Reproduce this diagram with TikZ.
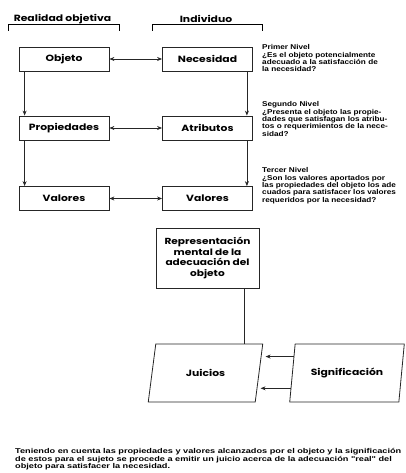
\documentclass[tikz,border=0pt]{standalone}
\usepackage{fontspec}
\setmainfont{Liberation Sans}
\newfontfamily\gothfont[FakeStretch=1.2]{Poppins}
\newfontfamily\notefont[FakeStretch=1.17]{Liberation Sans}
\newfontfamily\textofont[FakeStretch=1.31]{Liberation Sans}
\usetikzlibrary{arrows.meta,positioning,shapes.geometric,calc}

\begin{document}
\begin{tikzpicture}[
    % Environment Config
    x=1pt, y=-1pt,
    Caja/.style={% Style for the boxes
      draw=black!85,
      line width=0.8pt,
      minimum width=90pt,
      minimum height=24pt,
      inner sep=1pt,
      font=\gothfont\bfseries\fontsize{9}{10}\selectfont
    },
    Paralelo/.style={% Style for the slanted boxes
      draw=black!85,
      line width=0.8pt,
      trapezium,
      trapezium left angle=76,
      trapezium right angle=104,
      trapezium stretches=true,
      minimum width=115pt,
      minimum height=58pt,
      font=\gothfont\bfseries\fontsize{9}{10}\selectfont
    },
    Flecha/.style={% Style for the arrows
      -{Stealth[length=5pt,width=4pt]},
      line width=0.7pt,
      black!85
    },
    Doble/.style={% Style for the double arrows
      {Stealth[length=5pt,width=4pt]}-{Stealth[length=5pt,width=4pt]},
      line width=0.7pt,
      black!85
    },
    Nota/.style={% Style for the side notes
      anchor=north west,
      align=left,
      inner sep=0pt,
      font=\notefont\bfseries\fontsize{7}{7.4}\selectfont
    },
    Titulo/.style={% Style for the headers
      inner sep=0pt,
      font=\gothfont\bfseries\fontsize{9}{10}\selectfont
    }
  ]

  \useasboundingbox (0,0) rectangle (405,473);

  % Headers
  \node[Titulo] (realidad) at (62.5,19) {Realidad objetiva};
  \node[Titulo] (individuo) at (206,19) {Individuo};
  \draw[line width=0.8pt] (8,31) -- (8,24.5) -- (119,24.5) -- (119,31);
  \draw[line width=0.8pt] (152,31) -- (152,24.5) -- (262,24.5) -- (262,31);

  % Boxes
  \node[Caja] (objeto) at (64,59) {Objeto};
  \node[Caja] (necesidad) at (207.5,59) {Necesidad};
  \node[Caja] (propiedades) at (64,128) {Propiedades};
  \node[Caja] (atributos) at (207.5,128) {Atributos};
  \node[Caja] (valoresO) at (64,198.5) {Valores};
  \node[Caja] (valoresI) at (207.5,198.5) {Valores};
  \node[Caja, minimum width=103pt, minimum height=60pt, align=center,
        font=\gothfont\bfseries\fontsize{8.8}{10.6}\selectfont]
    (representacion) at (207.5,258)
    {Representación\\mental de la\\adecuación del\\objeto};
  \node[Paralelo] (juicios) at (205.5,373) {Juicios};
  \node[Paralelo] (significacion) at (347,373) {Significación};

  % Arrows
  \draw[Doble] (objeto) -- (necesidad);
  \draw[Doble] (propiedades) -- (atributos);
  \draw[Doble] (valoresO) -- (valoresI);
  \draw[Flecha] ([xshift=6]objeto.south west) -- ([xshift=6]propiedades.north west);
  \draw[Flecha] ([xshift=6]propiedades.south west) -- ([xshift=6]valoresO.north west);
  \draw[Flecha] ([xshift=-6]necesidad.south east) -- ([xshift=-6]atributos.north east);
  \draw[Flecha] ([xshift=-6]atributos.south east) -- ([xshift=-6]valoresI.north east);
  \draw[line width=0.7pt, black!85] ([xshift=-15]representacion.south east)
    -- ([xshift=-15]representacion.south east |- juicios.north);

  \coordinate (s1) at ($(significacion.bottom left corner)!0.78!(significacion.top left corner)$);
  \coordinate (s2) at ($(significacion.bottom left corner)!0.24!(significacion.top left corner)$);
  \coordinate (j1) at ($(s1)+(-28,0)$);
  \coordinate (j2) at ($(s2)+(-30,0)$);
  \draw[Flecha] (s1) -- (j1);
  \draw[Flecha] (s2) -- (j2);

  % Side notes
  \node[Nota] (nivel1) at (262,44.5)
    {Primer Nivel\\
     ¿Es el objeto potencialmente\\
     adecuado a la satisfacción de\\
     la necesidad?};
  \node[Nota] (nivel2) at (262,101.5)
    {Segundo Nivel\\
     ¿Presenta el objeto las propie-\\
     dades que satisfagan los atribu-\\
     tos o requerimientos de la nece-\\
     sidad?};
  \node[Nota] (nivel3) at (262,167.5)
    {Tercer Nivel\\
     ¿Son los valores aportados por\\
     las propiedades del objeto los ade\\
     cuados para satisfacer los valores\\
     requeridos por la necesidad?};

  % Bottom text
  \node[Nota, font=\textofont\bfseries\fontsize{7}{7.5}\selectfont] (conclusion) at (15,448.5)
    {Teniendo en cuenta las propiedades y valores alcanzados por el objeto y la significación\\
     de estos para el sujeto se procede a emitir un juicio acerca de la adecuación "real" del\\
     objeto para satisfacer la necesidad.};
\end{tikzpicture}
\end{document}
